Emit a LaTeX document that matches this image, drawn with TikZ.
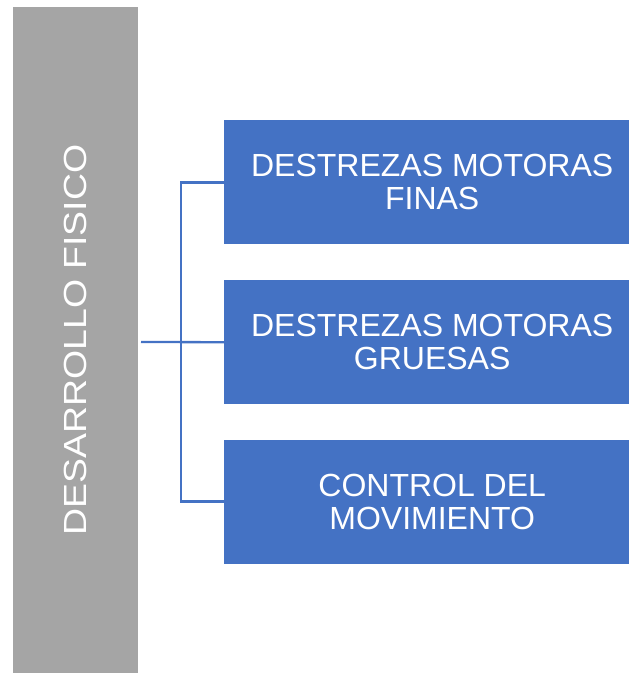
\documentclass[tikz,border=0pt]{standalone}
\usepackage{fontspec}
\setmainfont{Liberation Sans}
\definecolor{boxblue}{HTML}{4472C4}
\definecolor{boxgray}{HTML}{A5A5A5}
\begin{document}
\begin{tikzpicture}[x=1pt,y=-1pt,
  txt/.style={text=white,font=\fontsize{32}{33}\selectfont,align=center},
  bluebox/.style={fill=boxblue,draw=none,minimum width=405pt,minimum height=124pt,inner sep=0pt,anchor=north west},
  conn/.style={draw=boxblue,line width=2.3pt}]
\useasboundingbox (0,0) rectangle (629,673);
\node[fill=boxgray,minimum width=125pt,minimum height=666pt,inner sep=0pt,anchor=north west] (root) at (13,7) {};
\node[txt,rotate=90] (rl) at (root.center) {\scalebox{1.17}[1]{DESARROLLO FISICO}};
\node[bluebox] (b1) at (224,120) {};
\node[bluebox] (b2) at (224,280) {};
\node[bluebox] (b3) at (224,440) {};
\node[txt] (t1) at ([xshift=5.5pt]b1.center) {DESTREZAS MOTORAS\\FINAS};
\node[txt] (t2) at ([xshift=5.5pt]b2.center) {DESTREZAS MOTORAS\\GRUESAS};
\node[txt] (t3) at ([xshift=5.5pt]b3.center) {CONTROL DEL\\MOVIMIENTO};
\coordinate (s) at (141,342);
\draw[conn] (s) -- (b2.west);
\draw[conn] (b1.west |- 0,182.5) -- (181,182.5) -- (181,501.5) -- (b3.west |- 0,501.5);
\end{tikzpicture}
\end{document}
